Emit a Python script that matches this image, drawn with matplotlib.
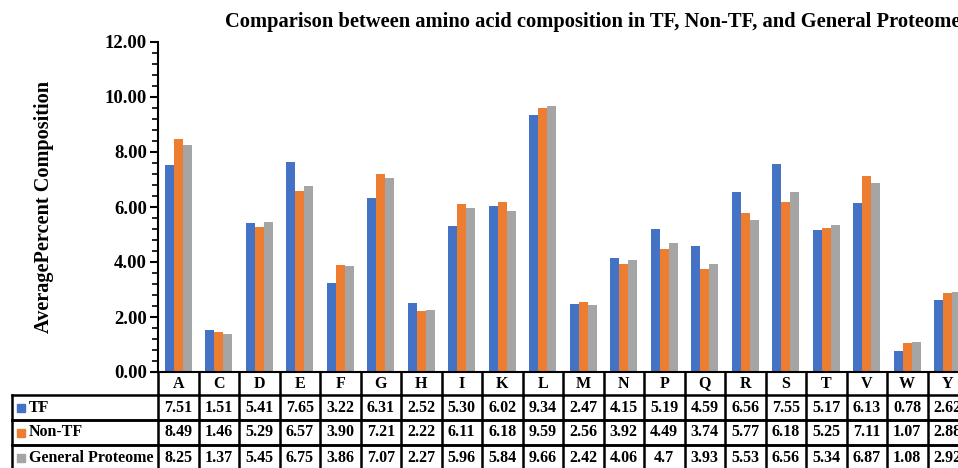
import matplotlib
matplotlib.use("Agg")
import matplotlib.pyplot as plt
import matplotlib.transforms as mtransforms
import numpy as np

plt.rcParams['font.family'] = ['Liberation Serif', 'DejaVu Serif']
plt.rcParams['font.weight'] = 'bold'

# amino acids and average percent composition
residues = ["A", "C", "D", "E", "F", "G", "H", "I", "K", "L",
            "M", "N", "P", "Q", "R", "S", "T", "V", "W", "Y"]
tf = [7.51, 1.51, 5.41, 7.65, 3.22, 6.31, 2.52, 5.30, 6.02, 9.34,
      2.47, 4.15, 5.19, 4.59, 6.56, 7.55, 5.17, 6.13, 0.78, 2.62]
non_tf = [8.49, 1.46, 5.29, 6.57, 3.90, 7.21, 2.22, 6.11, 6.18, 9.59,
          2.56, 3.92, 4.49, 3.74, 5.77, 6.18, 5.25, 7.11, 1.07, 2.88]
general = [8.25, 1.37, 5.45, 6.75, 3.86, 7.07, 2.27, 5.96, 5.84, 9.66,
           2.42, 4.06, 4.7, 3.93, 5.53, 6.56, 5.34, 6.87, 1.08, 2.92]
general_txt = ["8.25", "1.37", "5.45", "6.75", "3.86", "7.07", "2.27", "5.96", "5.84", "9.66",
               "2.42", "4.06", "4.7", "3.93", "5.53", "6.56", "5.34", "6.87", "1.08", "2.92"]

series = [("TF", tf, "#4472C4"),
          ("Non-TF", non_tf, "#ED7D31"),
          ("General Proteome", general, "#A5A5A5")]

W, H = 958, 468
fig = plt.figure(figsize=(W / 100, H / 100), dpi=100)
ax = fig.add_axes([158 / W, 96 / H, 810 / W, 330 / H])

x = np.arange(len(residues))
bw = 0.22
for i, (name, vals, col) in enumerate(series):
    ax.bar(x + (i - 1) * bw, vals, width=bw, color=col)

ax.set_xlim(-0.5, len(residues) - 0.5)
ax.set_ylim(0, 12)
ax.set_yticks(np.arange(0, 12.01, 2))
ax.set_yticks(np.arange(0, 12.01, 0.4), minor=True)
ax.yaxis.set_major_formatter(matplotlib.ticker.FormatStrFormatter('%.2f'))
ax.tick_params(axis='y', which='major', length=6, width=1.5, labelsize=13.5, pad=2)
ax.tick_params(axis='y', which='minor', length=4, width=1.2)
ax.set_xticks([])
for s in ['top', 'right']:
    ax.spines[s].set_visible(False)
ax.spines['left'].set_linewidth(1.5)
ax.spines['bottom'].set_linewidth(1.5)
ax.spines['bottom'].set_bounds(-0.65, len(residues) - 0.5)

ax.set_ylabel("AveragePercent Composition", fontsize=14.6, fontweight='bold')
ax.yaxis.set_label_coords(-104 / 810, 0.5)

fig.text(225 / W, 1 - 22 / H,
         "Comparison between amino acid composition in TF, Non-TF, and General Proteome",
         fontsize=14.8, fontweight='bold', ha='left', va='center')

# data table below the chart
tr = mtransforms.blended_transform_factory(ax.transData, ax.transAxes)
px = 1 / 330.0
rows = [0, 23, 48, 73, 98]  # row borders in pixels below the axis
n = len(residues)
lw = 1.8
lab_left = -0.5 - (158 - 12) / 40.5

def yy(p):
    return -p * px

# header row
for k in range(n + 1):
    ax.plot([k - 0.5, k - 0.5], [yy(rows[0]), yy(rows[1])], color='black', lw=lw,
            transform=tr, clip_on=False)
for j, r in enumerate(residues):
    ax.text(j, yy((rows[0] + rows[1]) / 2), r, transform=tr, ha='center', va='center',
            fontsize=11.5, fontweight='bold')

# data rows
for i, (name, vals, col) in enumerate(series):
    top, bot = rows[i + 1], rows[i + 2]
    ax.plot([lab_left, n - 0.5], [yy(top), yy(top)], color='black', lw=lw,
            transform=tr, clip_on=False)
    ax.plot([lab_left, n - 0.5], [yy(bot), yy(bot)], color='black', lw=lw,
            transform=tr, clip_on=False)
    ax.plot([lab_left, lab_left], [yy(top), yy(bot)], color='black', lw=lw,
            transform=tr, clip_on=False)
    for k in range(n + 1):
        ax.plot([k - 0.5, k - 0.5], [yy(top), yy(bot)], color='black', lw=lw,
                transform=tr, clip_on=False)
    cy = yy((top + bot) / 2)
    ax.plot([-0.5 - (158 - 21) / 40.5], [cy], marker='s', ms=5.5, color=col,
            transform=tr, clip_on=False)
    ax.text(-0.5 - (158 - 29) / 40.5, cy, name, transform=tr, ha='left', va='center',
            fontsize=11.5, fontweight='bold')
    labels = general_txt if name == "General Proteome" else ["%.2f" % v for v in vals]
    for j, t in enumerate(labels):
        ax.text(j, cy, t, transform=tr, ha='center', va='center',
                fontsize=11.5, fontweight='bold')

fig.savefig("out.png", dpi=100)
